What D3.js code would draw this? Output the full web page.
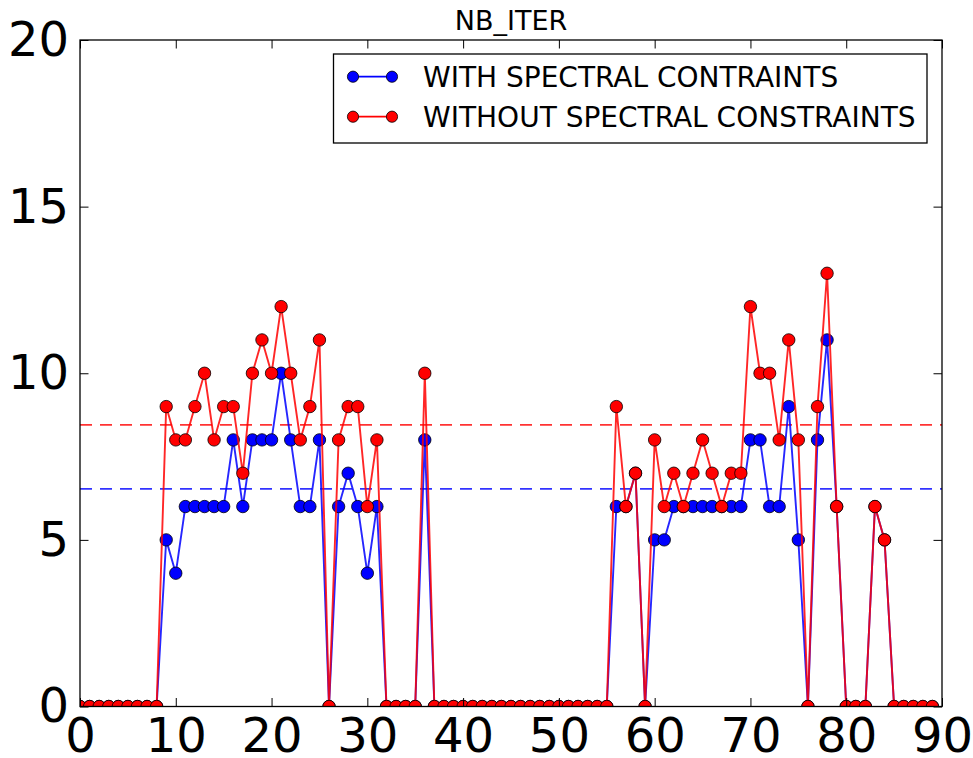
<!DOCTYPE html>
<html>
<head>
<meta charset="utf-8">
<script src="https://d3js.org/d3.v7.min.js"></script>
<style>
  body { margin: 0; background: #fff; }
  svg { display: block; font-family: "DejaVu Sans", sans-serif; }
  .tick text { font-family: "DejaVu Sans", sans-serif; }
</style>
</head>
<body>
<svg id="chart" width="973" height="758"></svg>
<script>
// values, one per iteration index 0..89
const withSC = [
  0, 0, 0, 0, 0, 0, 0, 0, 0,
  5, 4, 6, 6, 6, 6, 6, 8, 6, 8, 8, 8, 10, 8, 6, 6, 8,
  0,
  6, 7, 6, 4, 6,
  0, 0, 0, 0,
  8,
  0, 0, 0, 0, 0, 0, 0, 0, 0, 0, 0, 0, 0, 0, 0, 0, 0, 0, 0,
  6, 6, 7,
  0,
  5, 5, 6, 6, 6, 6, 6, 6, 6, 6, 8, 8, 6, 6, 9, 5,
  0,
  8, 11, 6,
  0, 0, 0,
  6, 5,
  0, 0, 0, 0, 0
];
const withoutSC = [
  0, 0, 0, 0, 0, 0, 0, 0, 0,
  9, 8, 8, 9, 10, 8, 9, 9, 7, 10, 11, 10, 12, 10, 8, 9, 11,
  0,
  8, 9, 9, 6, 8,
  0, 0, 0, 0,
  10,
  0, 0, 0, 0, 0, 0, 0, 0, 0, 0, 0, 0, 0, 0, 0, 0, 0, 0, 0,
  9, 6, 7,
  0,
  8, 6, 7, 6, 7, 8, 7, 6, 7, 7, 12, 10, 10, 8, 11, 8,
  0,
  9, 13, 6,
  0, 0, 0,
  6, 5,
  0, 0, 0, 0, 0
];
// mean of the non-zero runs (dashed lines)
const meanWith = 6.53;
const meanWithout = 8.45;

const seriesNames = ['WITH SPECTRAL CONTRAINTS', 'WITHOUT SPECTRAL CONSTRAINTS'];
const xTicks = [0, 10, 20, 30, 40, 50, 60, 70, 80, 90];
const yTicks = [0, 5, 10, 15, 20];

const pLeft = 80, pRight = 942, pTop = 40, pBottom = 706.5;
const svg = d3.select('#chart');

const x = d3.scaleLinear().domain([0, 90]).range([pLeft, pRight]);
const y = d3.scaleLinear().domain([0, 20]).range([pBottom, pTop]);

svg.append('clipPath').attr('id', 'clip')
   .append('rect')
     .attr('x', pLeft).attr('y', pTop)
     .attr('width', pRight - pLeft).attr('height', pBottom - pTop);

const plot = svg.append('g').attr('clip-path', 'url(#clip)');

// dashed mean lines
[[meanWith, '#0000ff'], [meanWithout, '#ff0000']].forEach(([m, c]) => {
  plot.append('line')
      .attr('x1', pLeft).attr('x2', pRight)
      .attr('y1', y(m)).attr('y2', y(m))
      .attr('stroke', c).attr('stroke-width', 1.8)
      .attr('stroke-dasharray', '12,8')
      .attr('opacity', 0.8);
});

const line = d3.line().x((d, i) => x(i)).y(d => y(d));

function drawSeries(data, color) {
  plot.append('path')
      .datum(data)
      .attr('d', line)
      .attr('fill', 'none')
      .attr('stroke', color)
      .attr('stroke-width', 1.9)
      .attr('stroke-opacity', 0.85);
  plot.selectAll(null)
      .data(data)
      .enter()
      .append('circle')
        .attr('cx', (d, i) => x(i))
        .attr('cy', d => y(d))
        .attr('r', 6.2)
        .attr('fill', color)
        .attr('stroke', '#000')
        .attr('stroke-width', 0.8);
}
drawSeries(withSC, '#0000ff');
drawSeries(withoutSC, '#ff0000');

// axes with inward ticks
const fontSize = 48;
svg.append('g')
   .attr('transform', `translate(0,${pBottom})`)
   .call(d3.axisBottom(x).tickValues(xTicks).tickSizeInner(-8.5).tickSizeOuter(0).tickPadding(11))
   .call(g => g.select('.domain').remove())
   .call(g => g.selectAll('.tick text').attr('font-size', fontSize).attr('fill', '#000'));

svg.append('g')
   .attr('transform', `translate(${pLeft},0)`)
   .call(d3.axisLeft(y).tickValues(yTicks).tickSizeInner(-8.5).tickSizeOuter(0).tickPadding(11))
   .call(g => g.select('.domain').remove())
   .call(g => g.selectAll('.tick text').attr('font-size', fontSize).attr('fill', '#000'));

svg.append('g')
   .attr('transform', `translate(0,${pTop})`)
   .call(d3.axisTop(x).tickValues(xTicks).tickSizeInner(-8.5).tickSizeOuter(0).tickFormat(''))
   .call(g => g.select('.domain').remove());

svg.append('g')
   .attr('transform', `translate(${pRight},0)`)
   .call(d3.axisRight(y).tickValues(yTicks).tickSizeInner(-8.5).tickSizeOuter(0).tickFormat(''))
   .call(g => g.select('.domain').remove());

svg.selectAll('.tick line').attr('stroke', '#000').attr('stroke-width', 1);

// frame
svg.append('rect')
   .attr('x', pLeft).attr('y', pTop)
   .attr('width', pRight - pLeft).attr('height', pBottom - pTop)
   .attr('fill', 'none').attr('stroke', '#000').attr('stroke-width', 1.3);

// title
svg.append('text')
   .attr('x', (pLeft + pRight) / 2).attr('y', 30)
   .attr('text-anchor', 'middle')
   .attr('font-size', 27)
   .text('NB_ITER');

// legend
const legend = svg.append('g');
legend.append('rect')
      .attr('x', 333.5).attr('y', 54)
      .attr('width', 593.5).attr('height', 89)
      .attr('fill', '#fff').attr('stroke', '#000').attr('stroke-width', 1.3);

[['#0000ff', 76.7], ['#ff0000', 116.7]].forEach(([c, ly], i) => {
  legend.append('line')
        .attr('x1', 353).attr('x2', 392)
        .attr('y1', ly).attr('y2', ly)
        .attr('stroke', c).attr('stroke-width', 1.8);
  [353, 392].forEach(cx => {
    legend.append('circle')
          .attr('cx', cx).attr('cy', ly).attr('r', 5.6)
          .attr('fill', c).attr('stroke', '#000').attr('stroke-width', 0.8);
  });
  legend.append('text')
        .attr('x', 423).attr('y', ly + 9.8)
        .attr('font-size', 28)
        .text(seriesNames[i]);
});
</script>
</body>
</html>
